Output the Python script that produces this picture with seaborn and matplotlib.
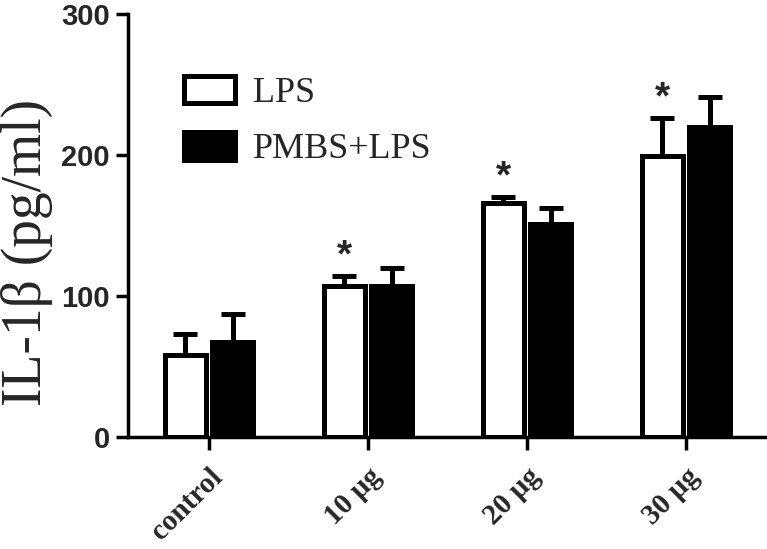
import numpy as np
import pandas as pd
import seaborn as sns
import matplotlib.pyplot as plt
import matplotlib.transforms as mtransforms
from matplotlib.patches import Patch

# Data
categories = ['control', '10 µg', '20 µg', '30 µg']
groups = ['LPS', 'PMBS+LPS']
lps_mean = [58, 107, 166, 199]
lps_err = [15, 7, 4, 27]
pmbs_mean = [67, 107, 151, 220]
pmbs_err = [20, 13, 11, 21]
stars = ['', '*', '*', '*']  # significance marks above LPS bars

df = pd.DataFrame({
    'dose': categories * 2,
    'group': [groups[0]] * 4 + [groups[1]] * 4,
    'value': lps_mean + pmbs_mean,
})

sns.set_style('ticks')
plt.rcParams['font.family'] = ['Liberation Serif', 'DejaVu Serif']

fig = plt.figure(figsize=(7.67, 5.49), dpi=100)
ax = fig.add_axes([0.167, 0.204, 0.833, 0.771])

sns.barplot(data=df, x='dose', y='value', hue='group', order=categories,
            hue_order=groups, palette=['white', 'black'], edgecolor='black',
            linewidth=3.6, width=0.6, gap=0.14, errorbar=None, legend=False,
            saturation=1, ax=ax, zorder=3)

# one-sided error bars, drawn behind the bars
for cont, errs in zip(ax.containers, [lps_err, pmbs_err]):
    xs = [p.get_x() + p.get_width() / 2 for p in cont]
    ys = [p.get_height() for p in cont]
    ax.errorbar(xs, ys, yerr=[np.zeros(len(errs)), errs], fmt='none',
                ecolor='black', elinewidth=3.6, capsize=8.3, capthick=3.6,
                zorder=2)

# asterisks
cont = ax.containers[0]
for p, m, e, s in zip(cont, lps_mean, lps_err, stars):
    if s:
        ax.annotate(s, (p.get_x() + p.get_width() / 2, m + e), xytext=(0, 1),
                    textcoords='offset points', ha='center', va='bottom',
                    fontsize=28, fontweight='bold', fontfamily='Liberation Sans')

ax.set_xlim(-0.51, 3.51)
ax.set_ylim(0, 300)
ax.set_yticks([0, 100, 200, 300])
ax.set_xlabel('')
ax.set_ylabel('IL-1β (pg/ml)', fontsize=40)
ax.yaxis.set_label_coords(-0.118, 0.435)

for lab in ax.get_yticklabels():
    lab.set_fontfamily('Liberation Sans')
    lab.set_fontweight('bold')
    lab.set_fontsize(21)
shift = mtransforms.ScaledTranslation(0.13, 0, fig.dpi_scale_trans)
for lab in ax.get_xticklabels():
    lab.set_fontweight('bold')
    lab.set_fontsize(21)
    lab.set_rotation(45)
    lab.set_ha('right')
    lab.set_rotation_mode('anchor')
    lab.set_transform(lab.get_transform() + shift)

ax.tick_params(axis='both', width=2.5, length=9, color='black', pad=4)
ax.tick_params(axis='x', pad=10)
for side in ['top', 'right']:
    ax.spines[side].set_visible(False)
for side in ['left', 'bottom']:
    ax.spines[side].set_linewidth(2.5)
    ax.spines[side].set_color('black')

handles = [Patch(facecolor='white', edgecolor='black', linewidth=3.6),
           Patch(facecolor='black', edgecolor='black', linewidth=3.6)]
ax.legend(handles, groups, loc='upper left', bbox_to_anchor=(0.037, 0.93),
          frameon=False, fontsize=26, handlelength=1.4, handleheight=0.8,
          handletextpad=0.5, labelspacing=0.6)

fig.savefig('out.png', dpi=100)
